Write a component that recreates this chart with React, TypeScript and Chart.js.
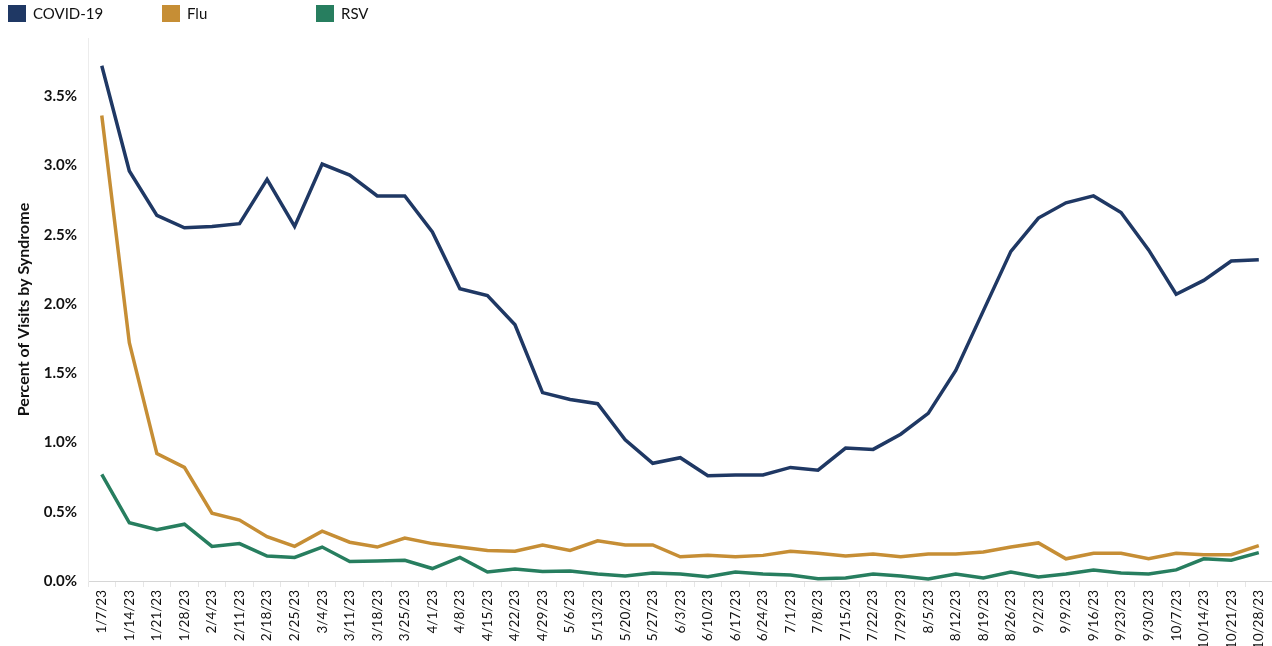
import React, { useEffect, useRef } from 'react';
import { Chart, registerables } from 'chart.js';

Chart.register(...registerables);

const weeks = [
  '1/7/23', '1/14/23', '1/21/23', '1/28/23', '2/4/23', '2/11/23', '2/18/23', '2/25/23',
  '3/4/23', '3/11/23', '3/18/23', '3/25/23', '4/1/23', '4/8/23', '4/15/23', '4/22/23',
  '4/29/23', '5/6/23', '5/13/23', '5/20/23', '5/27/23', '6/3/23', '6/10/23', '6/17/23',
  '6/24/23', '7/1/23', '7/8/23', '7/15/23', '7/22/23', '7/29/23', '8/5/23', '8/12/23',
  '8/19/23', '8/26/23', '9/2/23', '9/9/23', '9/16/23', '9/23/23', '9/30/23', '10/7/23',
  '10/14/23', '10/21/23', '10/28/23',
];

const covid = [
  3.72, 2.96, 2.64, 2.55, 2.56, 2.58, 2.90, 2.56, 3.01, 2.93, 2.78, 2.78, 2.52, 2.11,
  2.06, 1.85, 1.36, 1.31, 1.28, 1.02, 0.85, 0.89, 0.76, 0.765, 0.765, 0.82, 0.80, 0.96,
  0.95, 1.06, 1.21, 1.52, 1.95, 2.38, 2.62, 2.73, 2.78, 2.66, 2.39, 2.07, 2.17, 2.31, 2.32,
];

const flu = [
  3.36, 1.72, 0.92, 0.82, 0.49, 0.44, 0.32, 0.25, 0.36, 0.28, 0.245, 0.31, 0.27, 0.245,
  0.22, 0.215, 0.26, 0.22, 0.29, 0.26, 0.26, 0.175, 0.185, 0.175, 0.185, 0.215, 0.20, 0.18,
  0.195, 0.175, 0.195, 0.195, 0.21, 0.245, 0.275, 0.16, 0.20, 0.20, 0.16, 0.20, 0.19, 0.19, 0.255,
];

const rsv = [
  0.77, 0.42, 0.37, 0.41, 0.25, 0.27, 0.18, 0.17, 0.245, 0.14, 0.145, 0.15, 0.09, 0.17,
  0.065, 0.087, 0.068, 0.072, 0.05, 0.036, 0.058, 0.05, 0.03, 0.065, 0.05, 0.043, 0.016, 0.022,
  0.05, 0.036, 0.014, 0.05, 0.022, 0.065, 0.029, 0.05, 0.08, 0.058, 0.05, 0.08, 0.16, 0.15, 0.205,
];

const seriesNames = ['COVID-19', 'Flu', 'RSV'];
const seriesColors = ['#1f3864', '#c68e35', '#277e5f'];
const seriesValues = [covid, flu, rsv];

const yAxisTitle = 'Percent of Visits by Syndrome';
const FONT = 'Lato, "Open Sans", sans-serif';

export default function App() {
  const ref = useRef<HTMLCanvasElement>(null);

  useEffect(() => {
    if (!ref.current) return;
    const chart = new Chart(ref.current, {
      type: 'line',
      data: {
        labels: weeks,
        datasets: seriesNames.map((name, i) => ({
          label: name,
          data: seriesValues[i],
          borderColor: seriesColors[i],
          backgroundColor: seriesColors[i],
          borderWidth: 3.5,
          pointRadius: 0,
          tension: 0,
          fill: false,
        })),
      },
      options: {
        responsive: false,
        animation: false,
        layout: { padding: { top: 38, right: 0, bottom: 0, left: 0 } },
        plugins: {
          legend: { display: false },
          tooltip: { enabled: false },
        },
        scales: {
          x: {
            offset: true,
            grid: {
              display: true,
              drawOnChartArea: false,
              offset: true,
              tickLength: 6,
              color: '#e6e6e6',
            },
            border: { display: true, color: '#d6d6d6', dash: [2, 2] },
            ticks: {
              autoSkip: false,
              maxRotation: 90,
              minRotation: 90,
              padding: 3,
              color: '#111',
              font: { family: FONT, size: 13.5 },
            },
            afterFit: (s: any) => {
              s.height = 65;
            },
          },
          y: {
            min: 0,
            max: 3.92,
            grid: { display: false },
            border: { display: true, color: '#ececec' },
            ticks: {
              stepSize: 0.5,
              includeBounds: false,
              padding: 3,
              color: '#111',
              font: { family: FONT, size: 15, weight: 'bold' },
              callback: (v: any) => Number(v).toFixed(1) + '%',
            },
            title: {
              display: true,
              text: yAxisTitle,
              color: '#111',
              padding: { top: 14, bottom: 0 },
              font: { family: FONT, size: 16, weight: 'bold' },
            },
            afterFit: (s: any) => {
              s.width = 88;
            },
          },
        },
      },
    } as any);
    return () => chart.destroy();
  }, []);

  return (
    <div
      style={{
        position: 'fixed',
        left: 0,
        top: 0,
        width: 1272,
        height: 646,
        overflow: 'hidden',
        background: '#fff',
        fontFamily: FONT,
      }}
    >
      <canvas ref={ref} width={1278} height={646} style={{ position: 'absolute', left: 0, top: 0 }} />
      <div style={{ position: 'absolute', left: 8, top: 4, display: 'flex' }}>
        {seriesNames.map((name, i) => (
          <div key={name} style={{ width: 154, display: 'flex', alignItems: 'center', height: 18 }}>
            <span style={{ width: 18, height: 17, background: seriesColors[i], display: 'inline-block' }} />
            <span style={{ marginLeft: 7, fontSize: 15, color: '#111', lineHeight: '18px' }}>{name}</span>
          </div>
        ))}
      </div>
    </div>
  );
}
